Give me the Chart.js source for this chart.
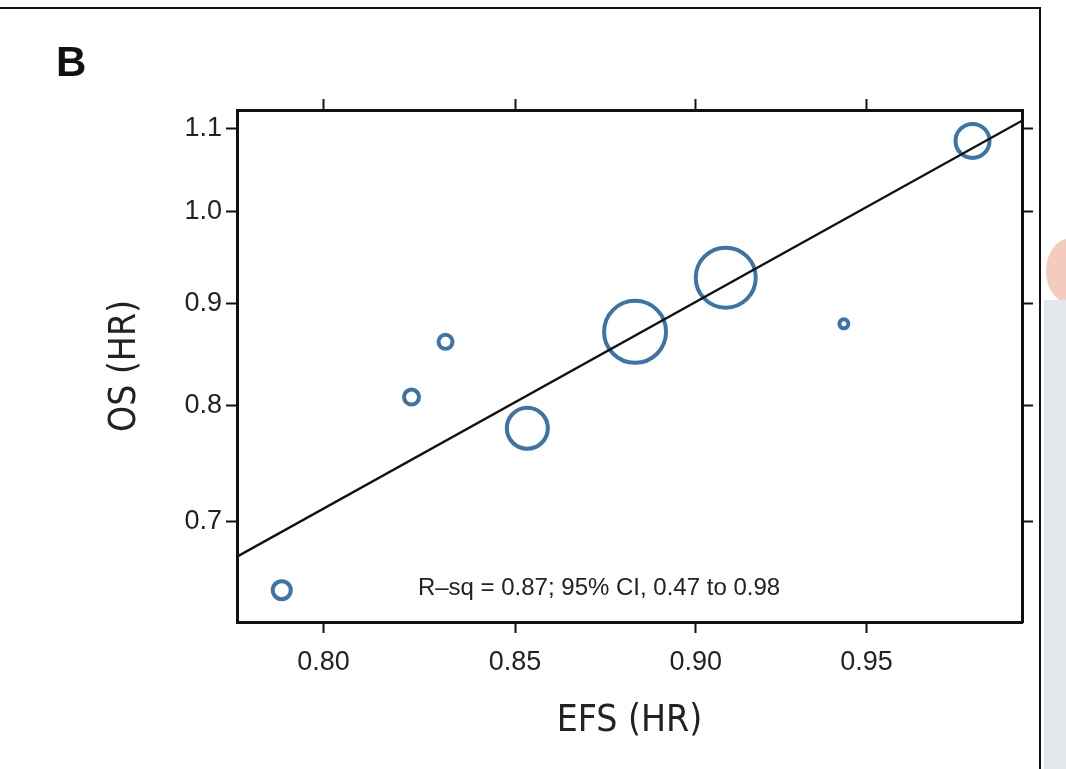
<!DOCTYPE html>
<html>
<head>
<meta charset="utf-8">
<script src="https://cdn.jsdelivr.net/npm/chart.js@4"></script>
<style>
  html, body { margin: 0; padding: 0; background: #fff; overflow: hidden; }
  #wrap { position: relative; width: 1066px; height: 769px; overflow: hidden; }
  #frameTop { position: absolute; left: 0; top: 7px; width: 1041px; height: 2px; background: #111; }
  #frameRight { position: absolute; left: 1039px; top: 7px; width: 2px; height: 762px; background: #111; }
  #panel { position: absolute; left: 56px; top: 38px; font: bold 42px "Liberation Sans", Arial, sans-serif; color: #111; }
  #edgePink { position: absolute; left: 1046px; top: 238px; width: 50px; height: 66px; border-radius: 50%; background: #f6cbbf; }
  #edgeGrey { position: absolute; left: 1044px; top: 300px; width: 30px; height: 469px; background: #e4e7ec; }
</style>
</head>
<body>
<div id="wrap">
  <canvas id="chart" width="1066" height="769"></canvas>
  <div id="edgePink"></div>
  <div id="edgeGrey"></div>
  <div id="frameTop"></div>
  <div id="frameRight"></div>
  <div id="panel">B</div>
</div>
<script>
// trial-level hazard ratios
const efsHR = [0.7895, 0.8226, 0.8315, 0.8533, 0.8829, 0.9086, 0.9432, 0.9824];
const osHR = [0.647, 0.808, 0.861, 0.7795, 0.871, 0.927, 0.879, 1.085];
const trialWeight = [9, 7.5, 7, 20.5, 31, 30, 4.5, 17];

// regression line end points
const fitX = [0.7784, 0.9979];
const fitY = [0.6724, 1.1105];

const xTicks = [0.80, 0.85, 0.90, 0.95];
const yTicks = [0.7, 0.8, 0.9, 1.0, 1.1];
const xRange = [0.7784, 0.9979];
const yRange = [0.6237, 1.1243];

const annotation = "R\u2013sq = 0.87; 95% CI, 0.47 to 0.98";

const tickFont = { family: "'Liberation Sans', Arial, sans-serif", size: 27 };
const titleFont = { family: "'Liberation Sans Narrow', 'DejaVu Sans Condensed', sans-serif", size: 37 };

const bubbles = efsHR.map((x, i) => ({ x: x, y: osHR[i], r: trialWeight[i] }));
const fitLine = fitX.map((x, i) => ({ x: x, y: fitY[i] }));

function fixTicks(list) {
  return function (scale) {
    scale.ticks = list.map(v => ({ value: v }));
  };
}

function axisBase(list, range) {
  return {
    type: "logarithmic",
    min: range[0],
    max: range[1],
    afterBuildTicks: fixTicks(list),
    border: { display: true, color: "#111", width: 3 },
    grid: { drawOnChartArea: false, drawTicks: true, tickLength: 11, tickWidth: 2, tickColor: "#111" },
  };
}

const noteText = {
  id: "noteText",
  afterDatasetsDraw(chart) {
    const ctx = chart.ctx;
    ctx.save();
    ctx.font = "24px 'Liberation Sans', Arial, sans-serif";
    ctx.fillStyle = "#222";
    ctx.textAlign = "center";
    ctx.textBaseline = "middle";
    ctx.fillText(annotation, 599, 588);
    ctx.restore();
  }
};

const x = axisBase(xTicks, xRange);
x.position = "bottom";
x.afterFit = s => { s.height = 147; };
x.ticks = { font: tickFont, color: "#222", padding: 13, maxRotation: 0, autoSkip: false,
  callback: v => Number(v).toFixed(2) };
x.title = { display: true, text: "EFS (HR)", font: titleFont, color: "#222", padding: { top: 0, bottom: 25 } };

const x2 = axisBase(xTicks, xRange);
x2.position = "top";
x2.afterFit = s => { s.height = 110; };
x2.ticks = { color: "transparent", autoSkip: false, callback: () => "" };

const y = axisBase(yTicks, yRange);
y.position = "left";
y.afterFit = s => { s.width = 237; };
y.ticks = { font: tickFont, color: "#222", padding: 4, autoSkip: false,
  callback: v => Number(v).toFixed(1) };
y.title = { display: true, text: "OS (HR)", font: titleFont, color: "#222", padding: { top: 103, bottom: 0 } };

const y2 = axisBase(yTicks, yRange);
y2.position = "right";
y2.afterFit = s => { s.width = 44; };
y2.ticks = { color: "transparent", autoSkip: false, callback: () => "" };

new Chart(document.getElementById("chart").getContext("2d"), {
  type: "bubble",
  data: {
    datasets: [
      {
        type: "line",
        data: fitLine,
        borderColor: "#111",
        borderWidth: 2.4,
        pointRadius: 0,
        fill: false,
        xAxisID: "x",
        yAxisID: "y",
      },
      {
        data: bubbles,
        backgroundColor: "rgba(255,255,255,0)",
        borderColor: "#3d74a5",
        borderWidth: 4,
        hoverRadius: 0,
        xAxisID: "x",
        yAxisID: "y",
      },
    ],
  },
  options: {
    responsive: false,
    animation: false,
    layout: { padding: 0 },
    plugins: { legend: { display: false }, tooltip: { enabled: false } },
    scales: { x: x, x2: x2, y: y, y2: y2 },
  },
  plugins: [noteText],
});
</script>
</body>
</html>
